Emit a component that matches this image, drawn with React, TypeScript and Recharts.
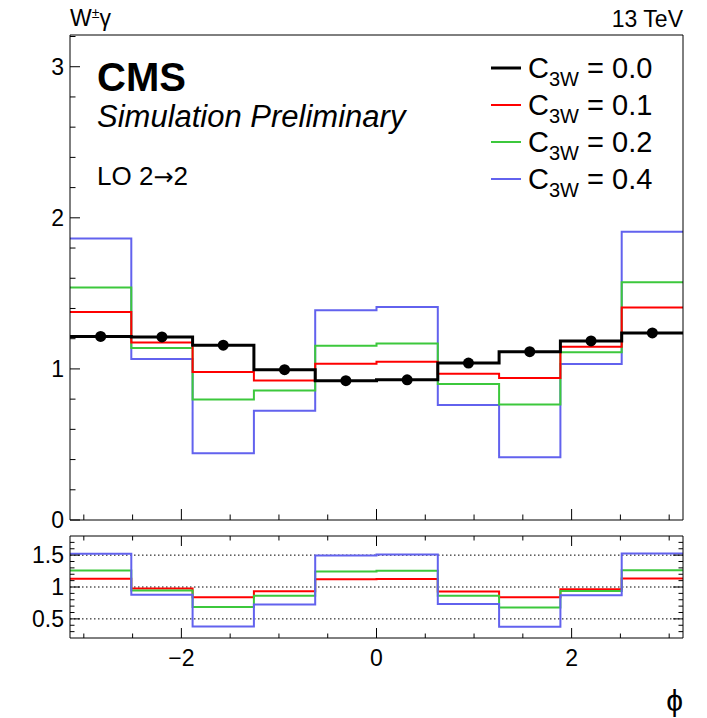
import React from 'react';
import { ComposedChart, Line, Scatter, XAxis, YAxis, ReferenceLine } from 'recharts';

// ---------------- data ----------------
const phiMin = -Math.PI;
const phiMax = Math.PI;
const nBins = 10;

// main panel (normalised distributions), one value per bin
const c3w00 = [1.215, 1.212, 1.157, 0.995, 0.922, 0.928, 1.039, 1.114, 1.185, 1.238];
const c3w01 = [1.377, 1.174, 0.979, 0.924, 1.034, 1.048, 0.968, 0.94, 1.147, 1.406];
const c3w02 = [1.538, 1.138, 0.798, 0.857, 1.154, 1.169, 0.9, 0.765, 1.11, 1.574];
const c3w04 = [1.863, 1.066, 0.442, 0.723, 1.388, 1.41, 0.761, 0.416, 1.032, 1.908];

// ratio panel values, one value per bin
const ratio01 = [1.13, 0.975, 0.84, 0.934, 1.12, 1.124, 0.93, 0.84, 0.965, 1.134];
const ratio02 = [1.258, 0.944, 0.686, 0.861, 1.243, 1.253, 0.861, 0.68, 0.938, 1.263];
const ratio04 = [1.52, 0.88, 0.38, 0.727, 1.495, 1.51, 0.732, 0.377, 0.872, 1.525];

// ticks
const xTicks = [-3, -2.5, -2, -1.5, -1, -0.5, 0, 0.5, 1, 1.5, 2, 2.5, 3];
const xLabels = [-2, 0, 2];
const yMainTicks = [0, 0.2, 0.4, 0.6, 0.8, 1, 1.2, 1.4, 1.6, 1.8, 2, 2.2, 2.4, 2.6, 2.8, 3, 3.2];
const yMainLabels = [0, 1, 2, 3];
const yRatioTicks = [0.3, 0.4, 0.5, 0.6, 0.7, 0.8, 0.9, 1, 1.1, 1.2, 1.3, 1.4, 1.5, 1.6, 1.7];
const yRatioLabels = [0.5, 1, 1.5];
const ratioGrid = [0.5, 1, 1.5];

const legendItems = [
  { label: '0.0', color: '#000000', width: 3 },
  { label: '0.1', color: '#ff0000', width: 2 },
  { label: '0.2', color: '#3cc83c', width: 2 },
  { label: '0.4', color: '#6262ee', width: 2 },
];

// ---------------- derived tables ----------------
const binWidth = (phiMax - phiMin) / nBins;
const edges = Array.from({ length: nBins + 1 }, (_, i) => phiMin + i * binWidth);
const mainRows = edges.map((x, i) => {
  const k = Math.min(i, nBins - 1);
  return { x, c00: c3w00[k], c01: c3w01[k], c02: c3w02[k], c04: c3w04[k] };
});
const ratioRows = edges.map((x, i) => {
  const k = Math.min(i, nBins - 1);
  return { x, r01: ratio01[k], r02: ratio02[k], r04: ratio04[k] };
});
const dots = c3w00.map((y, i) => ({ x: phiMin + (i + 0.5) * binWidth, y }));

const FONT = '"Liberation Sans", Arial, Helvetica, sans-serif';
const RED = '#ff0000';
const GREEN = '#3cc83c';
const BLUE = '#6262ee';

// plot-area geometry
const PLOT_W = 613;
const RATIO_H = 102;

const near = (a: number, list: number[]) => list.some((v) => Math.abs(v - a) < 1e-6);
const fmt = (v: number) => (v < 0 ? '\u2212' + String(Math.abs(v)) : String(v));

// tick renderers (ticks point inwards); optional mirrored tick on opposite side
const xTick = (majorLen: number, minorLen: number, labels: number[] | null, mirrorOffset: number) => (props: any) => {
  const { x, y, payload } = props;
  const v = payload.value;
  const major = near(v, xLabels);
  const len = major ? majorLen : minorLen;
  return (
    <g>
      <line x1={x} y1={y} x2={x} y2={y - len} stroke="#000" strokeWidth={1} />
      {mirrorOffset > 0 ? (
        <line x1={x} y1={y - mirrorOffset} x2={x} y2={y - mirrorOffset + len} stroke="#000" strokeWidth={1} />
      ) : null}
      {labels && near(v, labels) ? (
        <text x={x} y={y + 28} textAnchor="middle" fontSize={23} fontFamily={FONT} fill="#000">
          {fmt(v)}
        </text>
      ) : null}
    </g>
  );
};

const yTick = (majors: number[], majorLen: number, minorLen: number, mirrorOffset: number) => (props: any) => {
  const { x, y, payload } = props;
  const v = payload.value;
  const major = near(v, majors);
  const len = major ? majorLen : minorLen;
  return (
    <g>
      <line x1={x} y1={y} x2={x + len} y2={y} stroke="#000" strokeWidth={1} />
      {mirrorOffset > 0 ? (
        <line x1={x + mirrorOffset} y1={y} x2={x + mirrorOffset - len} y2={y} stroke="#000" strokeWidth={1} />
      ) : null}
      {major ? (
        <text x={x - 6} y={y + 8} textAnchor="end" fontSize={23} fontFamily={FONT} fill="#000">
          {fmt(v)}
        </text>
      ) : null}
    </g>
  );
};

const axisLine = { stroke: '#000', strokeWidth: 1 };

export default function App() {
  return (
    <div style={{ position: 'absolute', left: 0, top: 0, width: 707, height: 718, background: '#fff', fontFamily: FONT }}>
      {/* main panel */}
      <div style={{ position: 'absolute', left: 0, top: 0 }}>
        <ComposedChart width={707} height={540} data={mainRows} margin={{ top: 34, right: 23, bottom: 0, left: 10 }}>
          <XAxis
            dataKey="x"
            type="number"
            domain={[phiMin, phiMax]}
            allowDataOverflow
            ticks={xTicks}
            interval={0}
            height={20}
            tickSize={0}
            tickMargin={0}
            tickLine={false}
            axisLine={axisLine}
            tick={xTick(11, 5.5, null, 0)}
          />
          <XAxis
            xAxisId="top"
            orientation="top"
            type="number"
            domain={[phiMin, phiMax]}
            allowDataOverflow
            height={1}
            tick={false}
            tickLine={false}
            axisLine={axisLine}
          />
          <YAxis
            type="number"
            domain={[0, 3.21]}
            allowDataOverflow
            ticks={yMainTicks}
            interval={0}
            width={60}
            tickSize={0}
            tickMargin={0}
            tickLine={false}
            axisLine={axisLine}
            tick={yTick(yMainLabels, 10, 5.5, 0)}
          />
          <YAxis
            yAxisId="right"
            orientation="right"
            type="number"
            domain={[0, 3.21]}
            allowDataOverflow
            width={1}
            tick={false}
            tickLine={false}
            axisLine={axisLine}
          />
          <Line type="stepAfter" dataKey="c04" stroke={BLUE} strokeWidth={2} dot={false} isAnimationActive={false} />
          <Line type="stepAfter" dataKey="c02" stroke={GREEN} strokeWidth={2} dot={false} isAnimationActive={false} />
          <Line type="stepAfter" dataKey="c01" stroke={RED} strokeWidth={2} dot={false} isAnimationActive={false} />
          <Line type="stepAfter" dataKey="c00" stroke="#000" strokeWidth={3} dot={false} isAnimationActive={false} />
          <Scatter
            data={dots}
            dataKey="y"
            isAnimationActive={false}
            shape={(p: any) => <circle cx={p.cx} cy={p.cy} r={5.5} fill="#000" />}
          />
        </ComposedChart>
      </div>

      {/* ratio panel */}
      <div style={{ position: 'absolute', left: 0, top: 500 }}>
        <ComposedChart width={707} height={218} data={ratioRows} margin={{ top: 35, right: 23, bottom: 40, left: 10 }}>
          <XAxis
            dataKey="x"
            type="number"
            domain={[phiMin, phiMax]}
            allowDataOverflow
            ticks={xTicks}
            interval={0}
            height={40}
            tickSize={0}
            tickMargin={0}
            tickLine={false}
            axisLine={axisLine}
            tick={xTick(10, 4.5, xLabels, RATIO_H)}
          />
          <XAxis
            xAxisId="top"
            orientation="top"
            type="number"
            domain={[phiMin, phiMax]}
            allowDataOverflow
            height={1}
            tick={false}
            tickLine={false}
            axisLine={axisLine}
          />
          <YAxis
            type="number"
            domain={[0.2, 1.8]}
            allowDataOverflow
            ticks={yRatioTicks}
            interval={0}
            width={60}
            tickSize={0}
            tickMargin={0}
            tickLine={false}
            axisLine={axisLine}
            tick={yTick(yRatioLabels, 10, 4.5, PLOT_W)}
          />
          <YAxis
            yAxisId="right"
            orientation="right"
            type="number"
            domain={[0.2, 1.8]}
            allowDataOverflow
            width={1}
            tick={false}
            tickLine={false}
            axisLine={axisLine}
          />
          {ratioGrid.map((g) => (
            <ReferenceLine key={g} y={g} stroke="#000" strokeWidth={1} strokeDasharray="1.5 2.5" />
          ))}
          <Line type="stepAfter" dataKey="r01" stroke={RED} strokeWidth={2} dot={false} isAnimationActive={false} />
          <Line type="stepAfter" dataKey="r02" stroke={GREEN} strokeWidth={2} dot={false} isAnimationActive={false} />
          <Line type="stepAfter" dataKey="r04" stroke={BLUE} strokeWidth={2} dot={false} isAnimationActive={false} />
        </ComposedChart>
      </div>

      {/* text overlay */}
      <svg width={707} height={718} style={{ position: 'absolute', left: 0, top: 0, pointerEvents: 'none' }}>
        <text x={70} y={26} fontSize={23} fontFamily={FONT} fill="#000">
          W<tspan fontSize={14} dy={-8}>±</tspan>
          <tspan dy={8}>γ</tspan>
        </text>
        <text x={683} y={27} fontSize={23} fontFamily={FONT} textAnchor="end" fill="#000">
          13 TeV
        </text>
        <text x={97} y={91} fontSize={40} fontWeight="bold" fontFamily={FONT} fill="#000">
          CMS
        </text>
        <text x={97} y={127} fontSize={31} fontStyle="italic" fontFamily={FONT} fill="#000">
          Simulation Preliminary
        </text>
        <text x={97} y={185} fontSize={26} fontFamily={FONT} fill="#000">
          LO 2<tspan fontFamily='"DejaVu Sans", sans-serif' fontSize={24}>→</tspan>2
        </text>
        {legendItems.map((it, i) => {
          const cy = 68 + i * 37;
          return (
            <g key={it.label}>
              <line x1={491} x2={521} y1={cy} y2={cy} stroke={it.color} strokeWidth={it.width} />
              <text x={528} y={cy + 10} fontSize={29} fontFamily={FONT} fill="#000">
                C
                <tspan fontSize={20} dy={8}>3W</tspan>
                <tspan dy={-8}> = {it.label}</tspan>
              </text>
            </g>
          );
        })}
        <text x={683} y={711} fontSize={30} fontFamily={FONT} textAnchor="end" fill="#000">
          ϕ
        </text>
      </svg>
    </div>
  );
}
